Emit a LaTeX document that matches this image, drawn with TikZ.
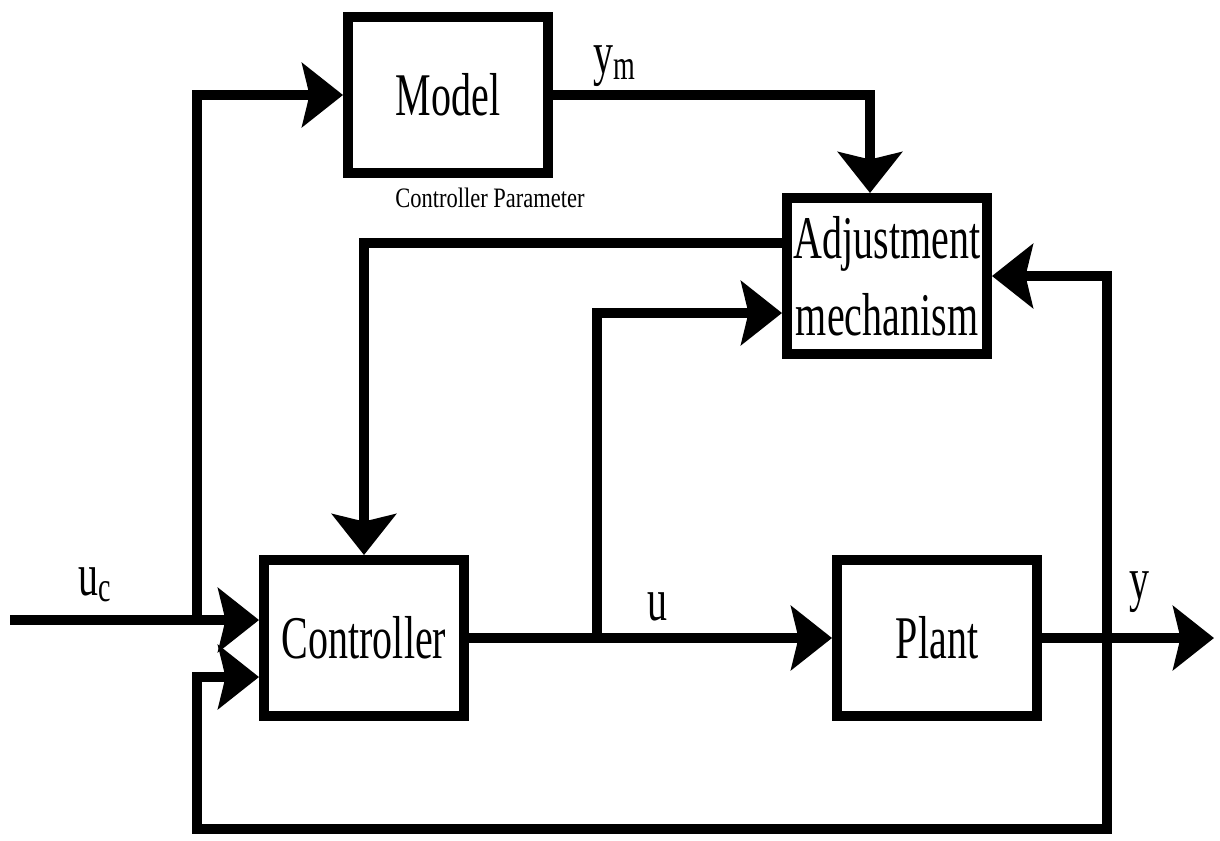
\documentclass[tikz,border=0pt]{standalone}
\usepackage{fontspec}
\usepackage{graphicx}
\setmainfont{Liberation Serif}
\usetikzlibrary{arrows.meta}
\newcommand{\bigf}{\fontsize{34.5}{44}\selectfont}
\newcommand{\smallf}{\fontsize{16}{18}\selectfont}
\newcommand{\sqz}[1]{\scalebox{0.66}[1]{#1}}

\begin{document}
\begin{tikzpicture}[x=0.02cm, y=-0.02cm,
    >={Stealth[length=0.82cm, width=1.28cm, inset=0.15cm]},
    every node/.style={font=\bigf},
    block/.style={draw, line width=0.2cm, minimum width=4cm, minimum height=3.12cm, inner sep=0pt},
    wire/.style={line width=0.2cm}]
    \useasboundingbox (0,0) rectangle (1220,840);

    % blocks
    \node[block] (model) at (448,95) {\sqz{Model}};
    \node[block, align=center] (adj) at (887,276) {\sqz{Adjustment}\\\sqz{mechanism}};
    \node[block] (ctrl) at (364,638) {\sqz{Controller}};
    \node[block] (plant) at (937,638) {\sqz{Plant}};

    % points on the wires
    \coordinate (uc) at (10,620);
    \coordinate (split) at (197,620);
    \coordinate (mdrop) at (870,93);
    \coordinate (atoc) at (782,243);
    \coordinate (branch) at (597,638);
    \coordinate (utoa) at (782,313);
    \coordinate (out) at (1214,638);
    \coordinate (fbcorner) at (1107,829);
    \coordinate (retcorner) at (197,829);
    \coordinate (ret) at (197,677);

    % wires
    \draw[wire,->] (uc) -- (uc -| ctrl.west);
    \draw[wire,->] (split) |- (model.west);
    \draw[wire,->] (model.east) -| (adj.north -| mdrop);
    \draw[wire,->] (atoc) -| (ctrl.north);
    \draw[wire,->] (ctrl.east) -- (plant.west);
    \draw[wire,->] (branch) |- (utoa);
    \draw[wire,->] (plant.east) -- (out);
    \draw[wire,<->] (adj.east) -| (fbcorner) -- (retcorner) |- (ret -| ctrl.west);

    % labels
    \node (ucl) at (95,585) {\sqz{u\textsubscript{c}}};
    \node (yml) at (615,66) {\sqz{y\textsubscript{m}}};
    \node[font=\smallf] (cpl) at (490,198) {\scalebox{0.8}[1]{Controller Parameter}};
    \node (ul) at (657,607) {\sqz{u}};
    \node (yl) at (1139,592) {\sqz{y}};

\end{tikzpicture}
\end{document}
